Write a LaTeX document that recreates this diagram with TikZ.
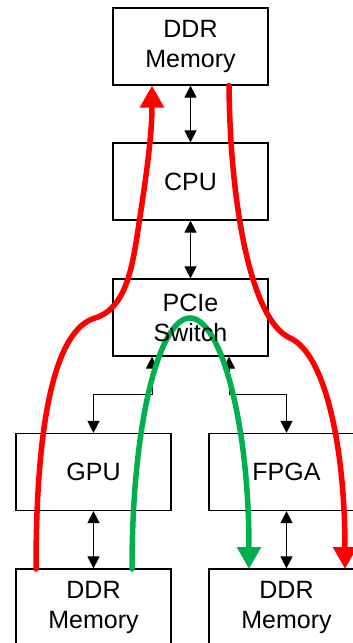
\documentclass[tikz,border=0pt]{standalone}
\usepackage{fontspec}
\setmainfont{Liberation Sans}
\usetikzlibrary{arrows.meta}
\definecolor{myred}{RGB}{255,0,0}
\definecolor{mygreen}{RGB}{0,176,80}
\tikzset{
  box/.style={draw=black, line width=1.2pt, minimum width=155pt, minimum height=77pt, inner sep=0pt, fill=white},
  lbl/.style={font=\fontsize{25}{30}\selectfont, align=center, inner sep=0pt},
  link/.style={line width=1pt, {Triangle[length=12pt,width=12pt]}-{Triangle[length=12pt,width=12pt]}},
  flowred/.style={draw=myred, line width=5.5pt, line cap=round, -{Triangle[length=22pt,width=23pt]}},
  flowgreen/.style={draw=mygreen, line width=5.5pt, line cap=round, -{Triangle[length=22pt,width=23pt]}}
}
\begin{document}
\begin{tikzpicture}[x=1pt,y=-1pt]
\useasboundingbox (0,0) rectangle (353,643);
\clip (0,0) rectangle (353,643);
% boxes
\node[box] (ddrT) at (190.5,46.5) {};
\node[box] (cpu)  at (190.5,181.5) {};
\node[box] (pcie) at (190.5,317.5) {};
\node[box] (gpu)  at (93.5,472) {};
\node[box] (fpga) at (286.5,472) {};
\node[box] (ddrL) at (93.5,607.5) {};
\node[box] (ddrR) at (286.5,607.5) {};
% black links
\draw[link] (ddrT.south) -- (cpu.north);
\draw[link] (cpu.south) -- (pcie.north);
\coordinate (jl) at (152,394);
\coordinate (jr) at (229,394);
\draw[link] (pcie.south -| jl) -- (jl) -| (gpu.north);
\draw[link] (pcie.south -| jr) -- (jr) -| (fpga.north);
\draw[link] (gpu.south) -- (ddrL.north);
\draw[link] (fpga.south) -- (ddrR.north);
% flows
\coordinate (rl0) at (36,569);
\coordinate (rl1) at (95,318);
\coordinate (rl2) at (138,230);
\coordinate (rl3) at (152,85.5);
\draw[flowred] (rl0) .. controls (36,420) and (55,330) .. (rl1)
  .. controls (125,309) and (132,270) .. (rl2)
  .. controls (144,190) and (152,140) .. (rl3);
\coordinate (rr0) at (229,85.5);
\coordinate (rr1) at (290,338);
\coordinate (rr2) at (345,569);
\draw[flowred] (rr0) .. controls (230,200) and (250,320) .. (rr1)
  .. controls (326,354) and (345,450) .. (rr2);
\coordinate (g0) at (132,569);
\coordinate (g1) at (190,318);
\coordinate (g2) at (249,569);
\draw[flowgreen] (g0) .. controls (132,420) and (160,318) .. (g1)
  .. controls (220,318) and (249,420) .. (g2);
% labels
\node[lbl] (tddrT) at (ddrT) {DDR\\Memory};
\node[lbl] (tcpu)  at (cpu)  {CPU};
\node[lbl] (tpcie) at (pcie) {PCIe\\Switch};
\node[lbl] (tgpu)  at (gpu)  {GPU};
\node[lbl] (tfpga) at (fpga) {FPGA};
\node[lbl] (tddrL) at (ddrL) {DDR\\Memory};
\node[lbl] (tddrR) at (ddrR) {DDR\\Memory};
\end{tikzpicture}
\end{document}
